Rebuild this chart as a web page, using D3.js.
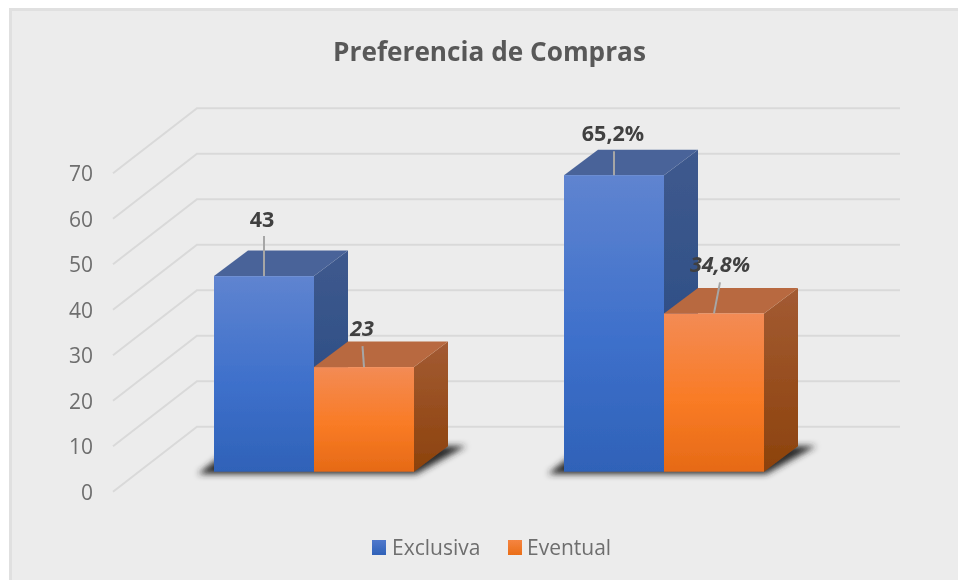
<!DOCTYPE html>
<html><head><meta charset="utf-8">
<script src="https://cdn.jsdelivr.net/npm/d3@7/dist/d3.min.js"></script>
<style>html,body{margin:0;padding:0;background:#fff}svg{display:block}text{font-family:"Open Sans",sans-serif}</style>
</head><body><svg id="c" width="958" height="580"></svg>
<script>
const titleText = "Preferencia de Compras";
const groups = ["Grupo 1", "Grupo 2"];
const seriesNames = ["Exclusiva", "Eventual"];
const exclusiva = [43, 65.2];
const eventual = [23, 34.8];
const exclusivaLabels = ["43", "65,2%"];
const eventualLabels = ["23", "34,8%"];
const yTicks = [0, 10, 20, 30, 40, 50, 60, 70];

const svg = d3.select("#c");
const defs = svg.append("defs");
function grad(id, stops) {
  const g = defs.append("linearGradient").attr("id", id).attr("x1", 0).attr("x2", 0).attr("y1", 0).attr("y2", 1);
  stops.forEach(s => g.append("stop").attr("offset", s[0]).attr("stop-color", s[1]));
}
grad("fb", [[0, "#5f84d0"], [0.55, "#3e70cb"], [1, "#2f62b8"]]);
grad("fo", [[0, "#f38b55"], [0.55, "#f97b25"], [1, "#e66a16"]]);
grad("sb", [[0, "#3f5a8e"], [1, "#234680"]]);
grad("so", [[0, "#a35b33"], [1, "#8c420c"]]);
grad("lg_b", [[0, "#5078cc"], [1, "#2f62b8"]]);
grad("lg_o", [[0, "#f58440"], [1, "#ea6e18"]]);
defs.append("filter").attr("id", "sh").attr("x", "-30%").attr("y", "-60%").attr("width", "160%").attr("height", "220%")
  .append("feGaussianBlur").attr("stdDeviation", 3);
defs.append("filter").attr("id", "soft").attr("x", 0).attr("y", 0).attr("width", 958).attr("height", 580)
  .attr("filterUnits", "userSpaceOnUse")
  .append("feGaussianBlur").attr("stdDeviation", 0.6);

// panel
svg.append("rect").attr("x", 9).attr("y", 8).attr("width", 960).attr("height", 580).attr("fill", "#e0e0e0");
svg.append("rect").attr("x", 12).attr("y", 11).attr("width", 960).attr("height", 580).attr("fill", "#ececec");

const root = svg.append("g").attr("filter", "url(#soft)");

// scales
const yAxisScale = d3.scaleLinear().domain([0, 70]).range([491.7, 173.3]);
const y = d3.scaleLinear().domain([0, 70]).range([471.7, 153.3]);
const x0 = d3.scaleBand().domain(groups).range([139, 839]);
const x1 = d3.scaleBand().domain(seriesNames).range([75, 275]);
const depthX = 34, depthY = 25.5;
const gridDX = 84, gridDY = 65, gridRight = 900;

// gridlines
const line = d3.line();
root.append("g").selectAll("path").data(yTicks).join("path")
  .attr("d", t => {
    const v = yAxisScale(t);
    return line([[113, v], [113 + gridDX, v - gridDY], [gridRight, v - gridDY]]);
  })
  .attr("fill", "none").attr("stroke", "#d9d9d9").attr("stroke-width", 2);

// axis labels
const axis = root.append("g").attr("transform", "translate(93,0.8)")
  .call(d3.axisLeft(yAxisScale).tickValues(yTicks).tickSize(0).tickPadding(0).tickFormat(d3.format("d")));
axis.select(".domain").remove();
axis.selectAll("text").attr("fill", "#6e6e6e").style("font-size", "21px").style("font-family", '"Open Sans",sans-serif');

// shadows
groups.forEach(g => {
  const a = x0(g) + x1(seriesNames[0]);
  const b = x0(g) + x1(seriesNames[1]) + x1.bandwidth();
  root.append("path")
    .attr("d", line([[a - 16, 474], [b + 2, 474], [b + 52, 446], [a + 20, 446]]) + "Z")
    .attr("fill", "#2a2a2a").attr("filter", "url(#sh)");
});

// bars
const series = [
  { name: seriesNames[0], values: exclusiva, labels: exclusivaLabels, front: "url(#fb)", side: "url(#sb)", top: "#4a6499", italic: false },
  { name: seriesNames[1], values: eventual, labels: eventualLabels, front: "url(#fo)", side: "url(#so)", top: "#b8693f", italic: true }
];
series.forEach(s => {
  groups.forEach((g, i) => {
    const l = x0(g) + x1(s.name), r = l + x1.bandwidth();
    const t = y(s.values[i]), b = y(0);
    const G = root.append("g");
    G.append("path").attr("d", line([[r, t], [r + depthX, t - depthY], [r + depthX, b - depthY], [r, b]]) + "Z").attr("fill", s.side);
    G.append("path").attr("d", line([[l, t], [l + depthX, t - depthY], [r + depthX, t - depthY], [r, t]]) + "Z").attr("fill", s.top);
    G.append("rect").attr("x", l).attr("y", t).attr("width", r - l).attr("height", b - t).attr("fill", s.front);
  });
});

// labels with leader lines: [dx of label from bar centre, lift of label, leader lift, leader top dx]
const callouts = [
  [[-2, 58, 40, 0], [-1, 43, 24, 0]],
  [[-2, 40, 21, -1.5], [6, 50, 31, 6]]
];
series.forEach((s, si) => {
  groups.forEach((g, i) => {
    const c = x0(g) + x1(s.name) + x1.bandwidth() / 2;
    const t = y(s.values[i]);
    const [ldx, lift, lead, topDx] = callouts[si][i];
    root.append("line").attr("x1", c).attr("y1", t).attr("x2", c + topDx).attr("y2", t - lead)
      .attr("stroke", "#a6a6a6").attr("stroke-width", 2);
    root.append("text").attr("x", c + ldx).attr("y", t - lift).attr("text-anchor", "middle")
      .attr("dominant-baseline", "central")
      .attr("fill", "#404040").style("font-size", "21.5px").style("font-weight", 700)
      .style("font-style", s.italic ? "italic" : "normal").text(s.labels[i]);
  });
});

// title
root.append("text").attr("x", 489.5).attr("y", 61).attr("text-anchor", "middle")
  .attr("fill", "#595959").style("font-size", "26.2px").style("font-weight", 700).text(titleText);

// legend
const legendX = d3.scalePoint().domain(seriesNames).range([372, 508]);
const leg = root.append("g").selectAll("g").data(seriesNames).join("g")
  .attr("transform", d => `translate(${legendX(d)},540)`);
leg.append("rect").attr("width", 14).attr("height", 15).attr("fill", (d, i) => i ? "url(#lg_o)" : "url(#lg_b)");
leg.append("text").attr("x", (d, i) => i ? 19 : 20).attr("y", 14.5).attr("fill", "#6e6e6e")
  .style("font-size", "21px").text(d => d);
</script></body></html>
